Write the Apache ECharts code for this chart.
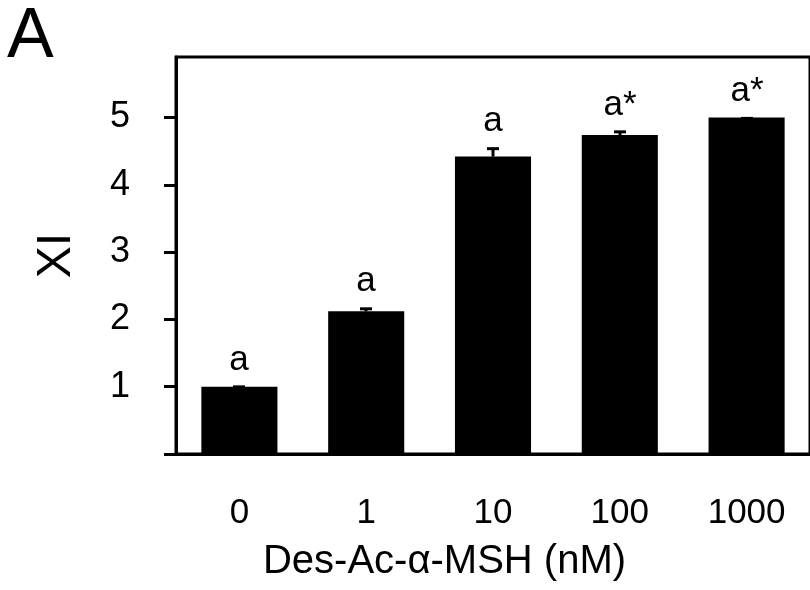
<!DOCTYPE html>
<html>
<head>
<meta charset="utf-8">
<script src="https://cdn.jsdelivr.net/npm/echarts@6/dist/echarts.min.js"></script>
<style>
  html, body { margin: 0; padding: 0; background: #fff; }
  #chart { width: 810px; height: 590px; }
</style>
</head>
<body>
<div id="chart"></div>
<script>
// data
var doses = ["0", "1", "10", "100", "1000"];
var xiMean = [1.0, 2.12, 4.42, 4.74, 5.0];
var xiErr = [0.02, 0.06, 0.14, 0.07, 0.01];
var sigLetters = ["a", "a", "a", "a*", "a*"];
var yTicks = [0, 1, 2, 3, 4, 5];
var yLabels = [1, 2, 3, 4, 5];

var font = "Liberation Sans, Arial, sans-serif";

var myChart = echarts.init(document.getElementById("chart"));

var errData = doses.map(function (d, i) {
  return [i, xiMean[i], xiErr[i]];
});

myChart.setOption({
  animation: false,
  backgroundColor: "#fff",
  graphic: [
    {
      type: "text",
      left: 7,
      top: 3,
      style: { text: "A", fontSize: 70, fontFamily: font, fill: "#000" }
    }
  ],
  grid: {
    left: 176,
    right: -7,
    top: 57,
    bottom: 136,
    show: true,
    borderColor: "#000",
    borderWidth: 3
  },
  xAxis: {
    type: "category",
    data: doses,
    name: "Des-Ac-\u03b1-MSH (nM)",
    nameLocation: "middle",
    nameGap: 88,
    nameTextStyle: {
      fontSize: 40,
      fontFamily: font,
      color: "#000",
      padding: [0, 97, 0, 0]
    },
    axisLine: { lineStyle: { color: "#000", width: 3 } },
    axisTick: { show: false },
    axisLabel: { fontSize: 35, fontFamily: font, color: "#000", margin: 42 }
  },
  yAxis: {
    type: "value",
    min: 0,
    max: 5.9,
    interval: 1,
    name: "XI",
    nameLocation: "middle",
    nameGap: 95,
    nameTextStyle: { fontSize: 48, fontFamily: font, color: "#000" },
    splitLine: { show: false },
    axisLine: { show: true, lineStyle: { color: "#000", width: 3 } },
    axisTick: {
      show: true,
      length: 12,
      customValues: yTicks,
      lineStyle: { color: "#000", width: 3 }
    },
    axisLabel: {
      customValues: yLabels,
      fontSize: 36,
      fontFamily: font,
      color: "#000",
      margin: 46
    }
  },
  series: [
    {
      type: "bar",
      data: xiMean,
      barWidth: "60%",
      itemStyle: { color: "#000" }
    },
    {
      type: "custom",
      data: errData,
      z: 3,
      renderItem: function (params, api) {
        var base = api.coord([api.value(0), api.value(1)]);
        var top = api.coord([api.value(0), api.value(1) + api.value(2)]);
        var x = Math.round(base[0]);
        return {
          type: "group",
          children: [
            {
              type: "line",
              shape: { x1: x, y1: base[1], x2: x, y2: top[1] + 1.5 },
              style: { stroke: "#000", lineWidth: 3 }
            },
            {
              type: "line",
              shape: { x1: x - 6, y1: top[1] + 1.5, x2: x + 6, y2: top[1] + 1.5 },
              style: { stroke: "#000", lineWidth: 3 }
            },
            {
              type: "text",
              x: x,
              y: top[1] - 8,
              style: {
                text: sigLetters[params.dataIndex],
                fontSize: 35,
                fontFamily: font,
                fill: "#000",
                align: "center",
                verticalAlign: "bottom"
              }
            }
          ]
        };
      }
    }
  ]
});
</script>
</body>
</html>
